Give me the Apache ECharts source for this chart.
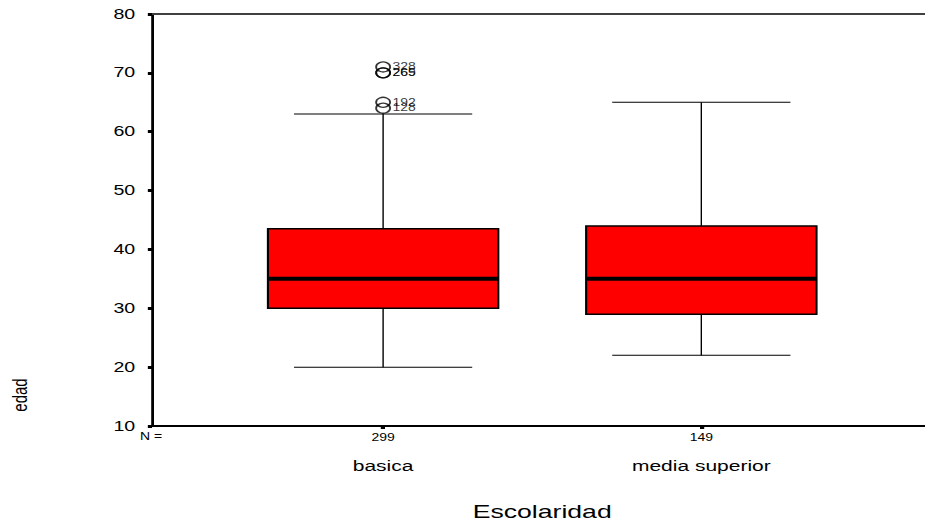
<!DOCTYPE html>
<html>
<head>
<meta charset="utf-8">
<script src="https://cdn.jsdelivr.net/npm/echarts@6/dist/echarts.min.js"></script>
<style>
  html, body { margin: 0; padding: 0; background: #fff; overflow: hidden; }
  /* the chart is laid out narrow and widened horizontally */
  #chart { width: 660.7px; height: 523px; transform: scaleX(1.4); transform-origin: 0 0; }
</style>
</head>
<body>
<div id="chart"></div>
<script>
// Groups on the category axis
const categories = ['basica', 'media superior'];
// Group sizes shown under each box
const groupN = [299, 149];
// Five-number summaries of edad per group: [min, Q1, median, Q3, max]
const boxStats = [
  [20, 30, 35, 43.5, 63],
  [22, 29, 35, 44, 65]
];
// Outlying cases: group index, edad, case id
const outlierGroup = [0, 0, 0, 0, 0];
const outlierValue = [71, 70, 70, 65, 64];
const outlierCase = ['328', '265', '269', '192', '128'];
// Value-axis range and step
const yMin = 10, yMax = 80, yStep = 10;

const FONT = '"Liberation Sans", Arial, sans-serif';
const chart = echarts.init(document.getElementById('chart'), null, { renderer: 'svg' });

const boxData = boxStats.map((s, i) => [i].concat(s));
const outlierData = outlierValue.map((v, i) => [outlierGroup[i], v, outlierCase[i]]);

function renderBox(params, api) {
  const idx = api.value(0);
  const band = api.size([1, 0])[0];
  const boxHalf = band * 0.362;
  const capHalf = band * 0.28;
  const pMin = api.coord([idx, api.value(1)]);
  const pQ1 = api.coord([idx, api.value(2)]);
  const pMed = api.coord([idx, api.value(3)]);
  const pQ3 = api.coord([idx, api.value(4)]);
  const pMax = api.coord([idx, api.value(5)]);
  const cx = pMed[0];
  const thin = { stroke: '#000', lineWidth: 1, fill: null };
  return {
    type: 'group',
    children: [
      { type: 'line', shape: { x1: cx, y1: pMax[1], x2: cx, y2: pQ3[1] }, style: thin },
      { type: 'line', shape: { x1: cx, y1: pQ1[1], x2: cx, y2: pMin[1] }, style: thin },
      { type: 'line', shape: { x1: cx - capHalf, y1: pMax[1], x2: cx + capHalf, y2: pMax[1] }, style: thin },
      { type: 'line', shape: { x1: cx - capHalf, y1: pMin[1], x2: cx + capHalf, y2: pMin[1] }, style: thin },
      { type: 'rect', shape: { x: cx - boxHalf, y: pQ3[1], width: boxHalf * 2, height: pQ1[1] - pQ3[1] },
        style: { fill: '#ff0000', stroke: '#000', lineWidth: 1.5 } },
      { type: 'line', shape: { x1: cx - boxHalf, y1: pMed[1], x2: cx + boxHalf, y2: pMed[1] },
        style: { stroke: '#000', lineWidth: 4 } }
    ]
  };
}

const option = {
  backgroundColor: '#fff',
  animation: false,
  textStyle: { fontFamily: FONT },
  grid: [
    { left: 108.6, right: -20, top: 14, bottom: 97, outerBoundsMode: 'none', containLabel: false },
    { left: 160, right: 46.4, top: 14, bottom: 97, outerBoundsMode: 'none', containLabel: false }
  ],
  xAxis: [
    { gridIndex: 0, type: 'value', min: 0, max: 1, position: 'bottom',
      axisLine: { show: true, lineStyle: { color: '#000', width: 2 } },
      axisTick: { show: false }, axisLabel: { show: false }, splitLine: { show: false } },
    { gridIndex: 0, type: 'value', min: 0, max: 1, position: 'top',
      axisLine: { show: true, lineStyle: { color: '#404040', width: 2 } },
      axisTick: { show: false }, axisLabel: { show: false }, splitLine: { show: false } },
    { gridIndex: 1, type: 'category', data: categories, boundaryGap: true,
      axisLine: { show: false },
      axisTick: { show: true, alignWithLabel: true, length: 3, lineStyle: { color: '#000', width: 3 } },
      axisLabel: {
        margin: 2, color: '#000',
        formatter: (v, i) => '{n|' + groupN[i] + '}\n{c|' + v + '}',
        rich: {
          n: { fontSize: 10, lineHeight: 20, fontFamily: FONT, color: '#000' },
          c: { fontSize: 15, lineHeight: 36, fontFamily: FONT, color: '#000' }
        }
      },
      name: 'Escolaridad', nameLocation: 'middle', nameGap: 76,
      nameTextStyle: { fontSize: 19, color: '#000', fontFamily: FONT }
    }
  ],
  yAxis: [
    { gridIndex: 0, type: 'value', min: yMin, max: yMax, interval: yStep,
      axisLine: { show: true, lineStyle: { color: '#000', width: 2 } },
      axisTick: { show: true, length: 3, lineStyle: { color: '#000', width: 3 } },
      axisLabel: { margin: 12, fontSize: 14, color: '#000', fontFamily: FONT },
      splitLine: { show: false } },
    { gridIndex: 1, type: 'value', min: yMin, max: yMax, interval: yStep, show: false }
  ],
  graphic: [
    { type: 'text', left: 100, top: 432, style: { text: 'N =', fontSize: 10, fill: '#000', fontFamily: FONT } },
    { type: 'text', x: 13.6, y: 395, rotation: Math.PI / 2,
      style: { text: 'edad', fontSize: 15, fill: '#000', fontFamily: FONT, align: 'center', verticalAlign: 'middle' } }
  ],
  series: [
    { type: 'custom', xAxisIndex: 2, yAxisIndex: 1, renderItem: renderBox, data: boxData, z: 2 },
    { type: 'scatter', xAxisIndex: 2, yAxisIndex: 1, data: outlierData, symbol: 'circle', symbolSize: 10,
      itemStyle: { color: 'rgba(255,255,255,0)', borderColor: '#000', borderWidth: 1.3 },
      label: { show: true, position: 'right', distance: 1, fontSize: 10, color: '#000', fontFamily: FONT,
        formatter: p => p.data[2] },
      z: 3 }
  ]
};

chart.setOption(option);
</script>
</body>
</html>
